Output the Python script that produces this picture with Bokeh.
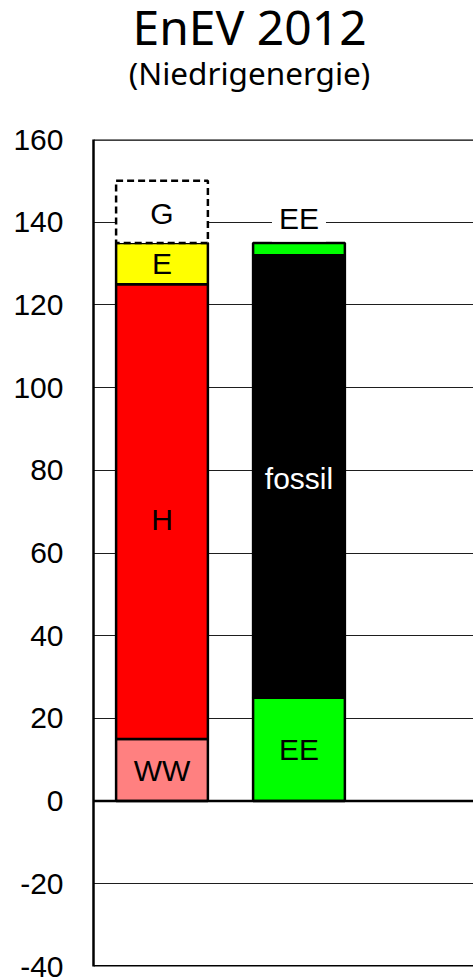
from bokeh.plotting import figure
from bokeh.layouts import column
from bokeh.models import (Range1d, FixedTicker, Span, ColumnDataSource, Label,
                          CustomJSTickFormatter)
from bokeh.core.properties import value
from bokeh.embed import file_html
from bokeh.resources import INLINE

# ---- data ----
title_text = "EnEV 2012"
subtitle_text = "(Niedrigenergie)"
y_ticks = [-40, -20, 0, 20, 40, 60, 80, 100, 120, 140, 160]

# solid stacked segments: bar index, bottom, top, colour
seg_bar = [1, 1, 1, 2, 2, 2]
seg_bottom = [0, 15, 125, 0, 25, 132]
seg_top = [15, 125, 135, 25, 132, 135]
seg_color = ["#ff8080", "#ff0000", "#ffff00", "#00ff00", "#000000", "#00ff00"]

# dashed segment (G)
dash_bar = [1]
dash_bottom = [135]
dash_top = [150]

# labels inside bars
lab_bar = [1, 1, 1, 1, 2, 2]
lab_y = [142, 130, 68, 7.5, 78, 12.5]
lab_text = ["G", "E", "H", "WW", "fossil", "EE"]
lab_color = ["black", "black", "black", "black", "white", "black"]

# label above bar 2
top_lab_bar = 2
top_lab_y = 141
top_lab_text = "EE"

FONT = "Liberation Sans"
TFONT = "Noto Sans"

xr = Range1d(0.5, 3.274)

# ---- title strip ----
t = figure(width=473, height=128, output_backend="svg", toolbar_location=None,
           x_range=xr, y_range=Range1d(0, 128),
           x_axis_type=None, y_axis_type=None,
           min_border_left=93, min_border_right=0, min_border_top=0,
           min_border_bottom=0)
t.title = None
t.outline_line_color = None
t.xgrid.visible = False
t.ygrid.visible = False
t.text(x=[1.639], y=[102.5], text=[title_text], text_font=value(TFONT),
       text_font_size="48px", text_color="black", text_align="center",
       text_baseline="alphabetic")
t.text(x=[1.639], y=[56], text=[subtitle_text], text_font=value(TFONT),
       text_font_size="31.5px", text_color="black", text_align="center",
       text_baseline="alphabetic")

# ---- chart ----
p = figure(width=473, height=851, output_backend="svg", toolbar_location=None,
           x_range=xr, y_range=Range1d(-40, 160),
           min_border_left=93, min_border_right=0, min_border_top=11,
           min_border_bottom=13)
p.title = None
p.outline_line_color = None
p.background_fill_color = "white"
p.border_fill_color = "white"

p.xaxis.visible = False
p.xgrid.visible = False

yt = FixedTicker(ticks=y_ticks)
p.yaxis.ticker = yt
p.yaxis.formatter = CustomJSTickFormatter(code="return String(tick);")
p.ygrid.ticker = yt
p.ygrid.grid_line_color = "#1e1e1e"
p.ygrid.grid_line_width = 1.2
p.yaxis.axis_line_color = "black"
p.yaxis.axis_line_width = 2.5
p.yaxis.major_tick_line_color = None
p.yaxis.minor_tick_line_color = None
p.yaxis.major_tick_out = 0
p.yaxis.major_tick_in = 0
p.yaxis.major_label_standoff = 30
p.yaxis.major_label_text_font = FONT
p.yaxis.major_label_text_font_size = "30px"
p.yaxis.major_label_text_color = "black"

for loc, w in [(160, 2.5), (-40, 3), (0, 2.5)]:
    p.add_layout(Span(location=loc, dimension="width", line_color="black", line_width=w))

src = ColumnDataSource(dict(x=seg_bar, bottom=seg_bottom, top=seg_top, color=seg_color))
p.vbar(x="x", bottom="bottom", top="top", width=0.67, source=src,
       fill_color="color", line_color="black", line_width=2.5)

dsrc = ColumnDataSource(dict(x=dash_bar, bottom=dash_bottom, top=dash_top))
p.vbar(x="x", bottom="bottom", top="top", width=0.67, source=dsrc,
       fill_color="white", line_color="black", line_width=2.5, line_dash="7 4")

lsrc = ColumnDataSource(dict(x=lab_bar, y=lab_y, text=lab_text, color=lab_color))
p.text(x="x", y="y", text="text", source=lsrc, text_color="color",
       text_font=value(FONT), text_font_size="30px",
       text_align="center", text_baseline="middle")

p.add_layout(Label(x=top_lab_bar, y=top_lab_y, text=top_lab_text,
                   text_font=FONT, text_font_size="30px", text_color="black",
                   text_align="center", text_baseline="middle",
                   background_fill_color="white", padding=7))

layout = column(t, p, spacing=0)
open("out.html", "w").write(file_html(layout, INLINE))
